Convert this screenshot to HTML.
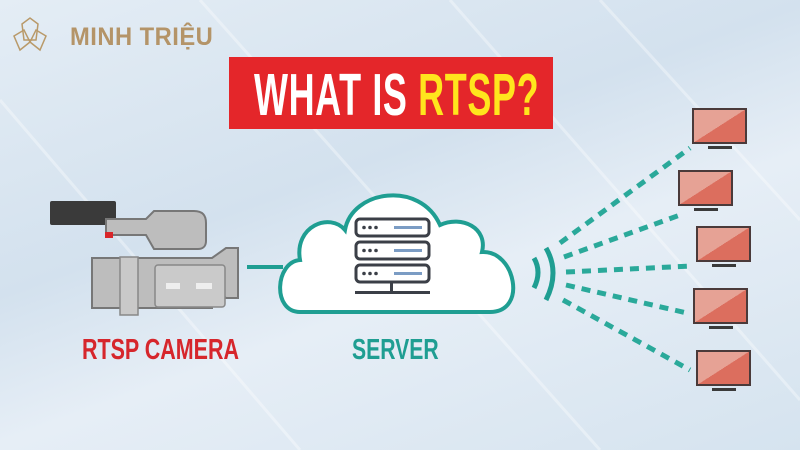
<!DOCTYPE html>
<html><head><meta charset="utf-8"><style>
html,body{margin:0;padding:0}
body{width:800px;height:450px;overflow:hidden;background:linear-gradient(160deg,#e4edf5 0%,#d3e1ee 40%,#e6eef6 60%,#d5e3ef 100%);position:relative;font-family:"Liberation Sans",sans-serif}
.t{position:absolute;font-weight:bold;white-space:nowrap;transform-origin:left top}
</style></head><body>
<svg width="800" height="450" style="position:absolute;left:0;top:0">
<defs><linearGradient id="sc" x1="0" y1="0" x2="1" y2="1"><stop offset="0.5" stop-color="#e6a295"/><stop offset="0.5" stop-color="#dc6e5e"/></linearGradient></defs>
<g stroke="#fff" stroke-opacity="0.35" stroke-width="3">
<line x1="0" y1="100" x2="300" y2="450"/><line x1="200" y1="0" x2="600" y2="450"/><line x1="450" y1="0" x2="800" y2="400"/><line x1="600" y1="0" x2="800" y2="220"/>
</g>
<!-- logo -->
<g fill="none" stroke="#b99a6a" stroke-width="1.5"><path d="M22 24 L30 18 L38 24 L36 40 L24 40 Z"/><path d="M14 36 L24 30 L30 42 L20 50 Z"/><path d="M46 36 L36 30 L30 42 L40 50 Z"/></g>
<!-- banner -->
<rect x="229" y="57" width="324" height="72" fill="#e4262a"/>
<!-- camera -->
<rect x="50" y="201" width="66" height="24" rx="2" fill="#3a3a3a"/>
<path d="M106 219 h40 l8 -8 h40 c10 0 12 6 12 12 v18 c0 6 -4 8 -8 8 h-44 l-8 -14 h-40 z" fill="#bdbdbd" stroke="#777" stroke-width="2"/>
<rect x="105" y="232" width="8" height="6" fill="#d9262a"/>
<path d="M92 258 h120 l14 -10 h12 v50 h-12 l-14 -10 v20 h-120 z" fill="#bdbdbd" stroke="#777" stroke-width="2"/>
<rect x="120" y="257" width="18" height="58" fill="#c9c9c9" stroke="#888" stroke-width="1.5"/>
<rect x="155" y="265" width="70" height="42" rx="3" fill="#cacaca" stroke="#888" stroke-width="1.5"/>
<rect x="166" y="283" width="14" height="6" fill="#eee"/><rect x="196" y="283" width="16" height="6" fill="#eee"/>
<line x1="247" y1="267" x2="283" y2="267" stroke="#1f9e92" stroke-width="4"/>
<!-- cloud -->
<path d="M300 312 C272 312 275 262 300 260 C294 226 330 212 345 230 C352 190 420 180 440 225 C462 215 488 228 482 252 C515 250 528 312 490 312 Z" fill="#fff" stroke="#1f9e92" stroke-width="4"/>
<g fill="#fff" stroke="#3b3f47" stroke-width="3">
<rect x="356" y="219" width="73" height="17" rx="4"/><rect x="356" y="242" width="73" height="17" rx="4"/><rect x="356" y="265" width="73" height="17" rx="4"/></g>
<g fill="#3b3f47"><circle cx="364" cy="227.5" r="1.8"/><circle cx="370" cy="227.5" r="1.8"/><circle cx="376" cy="227.5" r="1.8"/><circle cx="364" cy="250.5" r="1.8"/><circle cx="370" cy="250.5" r="1.8"/><circle cx="376" cy="250.5" r="1.8"/><circle cx="364" cy="273.5" r="1.8"/><circle cx="370" cy="273.5" r="1.8"/><circle cx="376" cy="273.5" r="1.8"/>
<rect x="390" y="282" width="3" height="10"/><rect x="355" y="291" width="75" height="3"/></g>
<g fill="#7b9cc4"><rect x="394" y="226" width="28" height="3"/><rect x="394" y="249" width="28" height="3"/><rect x="394" y="272" width="28" height="3"/></g>
<!-- waves -->
<g fill="none" stroke="#1f9e92" stroke-width="5"><path d="M534 258 Q542 272 534 288"/><path d="M546 248 Q560 272 546 300"/></g>
<g stroke="#2aa99a" stroke-width="5" stroke-dasharray="9 7">
<line x1="560" y1="243" x2="690" y2="148"/><line x1="564" y1="257" x2="680" y2="215"/><line x1="566" y1="272" x2="692" y2="266"/><line x1="566" y1="285" x2="687" y2="313"/><line x1="563" y1="300" x2="690" y2="370"/></g>
<g stroke="#4a3a3a" stroke-width="2">
<rect x="693" y="109" width="53" height="34" fill="url(#sc)"/><rect x="679" y="171" width="53" height="34" fill="url(#sc)"/><rect x="697" y="227" width="53" height="34" fill="url(#sc)"/><rect x="694" y="289" width="53" height="34" fill="url(#sc)"/><rect x="697" y="351" width="53" height="34" fill="url(#sc)"/></g>
<g fill="#3a3a3a"><rect x="708" y="146" width="24" height="3"/><rect x="694" y="208" width="24" height="3"/><rect x="712" y="264" width="24" height="3"/><rect x="709" y="326" width="24" height="3"/><rect x="712" y="388" width="24" height="3"/></g>
</svg>
<div class="t" style="left:70px;top:23px;font-size:25px;color:#b49468;letter-spacing:0.5px;transform:scaleX(0.95)">MINH TRIỆU</div>
<div class="t" style="left:254px;top:61px;font-size:59px;color:#fff;transform:scaleX(0.61);letter-spacing:1px">WHAT IS <span style="color:#ffe51d">RTSP?</span></div>
<div class="t" style="left:82px;top:334px;font-size:29px;color:#d6262c;transform:scaleX(0.74)">RTSP CAMERA</div>
<div class="t" style="left:352px;top:334px;font-size:29px;color:#1f9e92;transform:scaleX(0.73)">SERVER</div>
</body></html>
